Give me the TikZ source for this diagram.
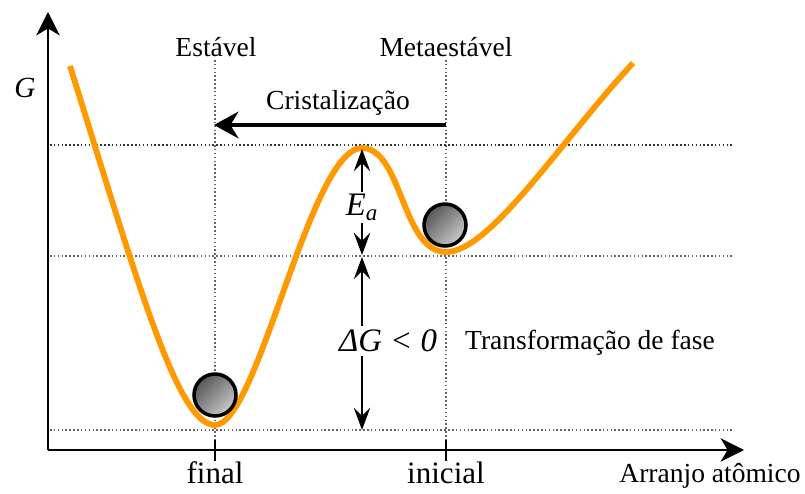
\documentclass[tikz,border=0pt]{standalone}
\usepackage{fontspec}
\setmainfont{Liberation Serif}
\usetikzlibrary{arrows.meta,shadings}
\definecolor{laranja}{RGB}{255,153,0}
\tikzset{
  guia/.style = {draw = black!60, line width = 1.3pt, dotted},
  eixo/.style = {draw, line width = 1.7pt, -{Stealth[length = 20pt, width = 20pt, inset = 6pt]}},
  seta/.style = {draw, line width = 2.6pt, -{Stealth[length = 21pt, width = 23pt, inset = 7pt]}},
  cota/.style = {draw, line width = 2.4pt, {Stealth[length = 19pt, width = 14pt, inset = 7pt]}-{Stealth[length = 19pt, width = 14pt, inset = 7pt]}},
  bola/.style = {draw, line width = 3pt, upper left = black!75, upper right = black!45, lower left = black!45, lower right = black!10},
  rotulo/.style = {font = \fontsize{23.5}{26}\selectfont, inner sep = 1pt},
}

\begin{document}
\begin{tikzpicture}[x = 0.3mm, y = -0.3mm]
\useasboundingbox (0,0) rectangle (805,494);
% guide lines
\coordinate(Fa)at(215,60);
\coordinate(Fb)at(215,440);
\coordinate(Ia)at(446,60);
\coordinate(Ib)at(446,440);
\coordinate(Ha)at(50,145);
\coordinate(Hb)at(733,145);
\coordinate(Ma)at(50,256);
\coordinate(Mb)at(733,256);
\coordinate(La)at(50,430);
\coordinate(Lb)at(733,430);
\path[guia](Fa)to(Fb);
\path[guia](Ia)to(Ib);
\path[guia, draw = black!80](Ha)to(Hb);
\path[guia](Ma)to(Mb);
\path[guia](La)to(Lb);
% axes
\coordinate(O)at(48,450);
\coordinate(Gtop)at(48,12);
\coordinate(Xend)at(744,450);
\path[eixo](O)to(Gtop);
\path[eixo](O)to(Xend);
\node[rotulo, font = \fontsize{25}{28}\selectfont\itshape](G)at(25,88){G};
\node[rotulo](arranjo)at(710,476){Arranjo atômico};
% ticks
\coordinate(Ta)at(215,440);
\coordinate(Tb)at(215,461);
\coordinate(Tc)at(446,440);
\coordinate(Td)at(446,461);
\path[draw, line width = 1.7pt](Ta)to(Tb);
\path[draw, line width = 1.7pt](Tc)to(Td);
\node[rotulo, font = \fontsize{26.5}{30}\selectfont](final)at(215,473){final};
\node[rotulo, font = \fontsize{26.5}{30}\selectfont](inicial)at(446,473){inicial};
\node[rotulo](estavel)at(216,47){Estável};
\node[rotulo](meta)at(446,47){Metaestável};
% energy curve
\coordinate(C0)at(70,66);
\coordinate(Min)at(215,425);
\coordinate(Top)at(362,148);
\coordinate(Loc)at(446,252);
\coordinate(C4)at(633,63);
\path[draw, laranja, line width = 5pt, line cap = butt]
  (C0) .. controls (140,290) and (178,425) .. (Min)
       .. controls (258,425) and (310,148) .. (Top)
       .. controls (402,148) and (402,252) .. (Loc)
       .. controls (490,252) and (560,142) .. (C4);
% balls
\shadedraw[bola](215,395) circle (21);
\shadedraw[bola](445,225) circle (21);
% crystallisation
\coordinate(Ca)at(446,125);
\coordinate(Cb)at(214,125);
\path[seta](Ca)to(Cb);
\node[rotulo](crist)at(338,103){Cristalização};
% energy differences
\coordinate(Ea1)at(362,149);
\coordinate(Ea2)at(362,255);
\coordinate(Dg1)at(362,257);
\coordinate(Dg2)at(362,430);
\path[cota](Ea1)to node[pos = 0.55, fill = white, inner sep = 2pt, font = \fontsize{28}{30}\selectfont\itshape]{E\textsubscript{a}}(Ea2);
\path[cota](Dg1)to(Dg2);
\node[fill = white, inner sep = 3pt, font = \fontsize{28}{30}\selectfont\itshape](dG)at(388,341){ΔG < 0};
\node[rotulo](transf)at(590,343){Transformação de fase};
\end{tikzpicture}
\end{document}
